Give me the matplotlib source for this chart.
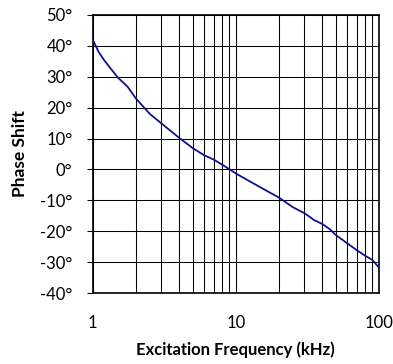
import matplotlib
matplotlib.use("Agg")
import matplotlib.pyplot as plt
from matplotlib.ticker import FixedLocator, NullFormatter

# Phase shift vs excitation frequency
freq_khz = [1, 1.1, 1.2, 1.3, 1.5, 1.75, 2, 2.5, 3, 4, 5, 6, 7, 8, 9, 10,
            15, 20, 25, 30, 33, 35, 40, 45, 50, 60, 70, 80, 90, 100]
phase_deg = [42, 38, 35.4, 33.3, 29.7, 26.8, 23, 18, 15, 10.3, 6.9, 4.6, 3.2, 1.6, 0.1, -1.3,
             -5.9, -9.1, -12.2, -14.1, -15.4, -16.3, -17.6, -19.2, -21.2, -23.9, -26.1, -27.9, -29.3, -31.7]

x_ticks = [1, 10, 100]
x_labels = ["1", "10", "100"]
y_ticks = list(range(-40, 51, 10))
y_labels = [f"{v}\u00b0" for v in y_ticks]

plt.rcParams["font.family"] = ["Lato", "DejaVu Sans"]

fig = plt.figure(figsize=(3.93, 3.64), dpi=100)
ax = fig.add_axes([0.236, 0.195, 0.728, 0.764])

ax.plot(freq_khz, phase_deg, color="#10108a", linewidth=1.3, zorder=3)

ax.set_xscale("log")
ax.set_xlim(1, 100)
ax.set_ylim(-40, 50)

ax.set_xticks(x_ticks)
ax.set_xticklabels(x_labels)
ax.xaxis.set_minor_locator(FixedLocator([m * d for d in (1, 10) for m in range(2, 10)]))
ax.xaxis.set_minor_formatter(NullFormatter())
ax.set_yticks(y_ticks)
ax.set_yticklabels(y_labels)

ax.grid(True, which="both", color="black", linewidth=0.75)
ax.tick_params(axis="x", which="both", length=0, pad=16, labelsize=12)
ax.tick_params(axis="y", length=4.5, width=0.75, pad=10, labelsize=12)

for s in ax.spines.values():
    s.set_linewidth(1.2)

ax.set_xlabel("Excitation Frequency (kHz)", fontsize=12, fontweight="bold", labelpad=7)
ax.set_ylabel("Phase Shift", fontsize=12.5, fontweight="bold", labelpad=9)

fig.savefig("out.png", dpi=100)
